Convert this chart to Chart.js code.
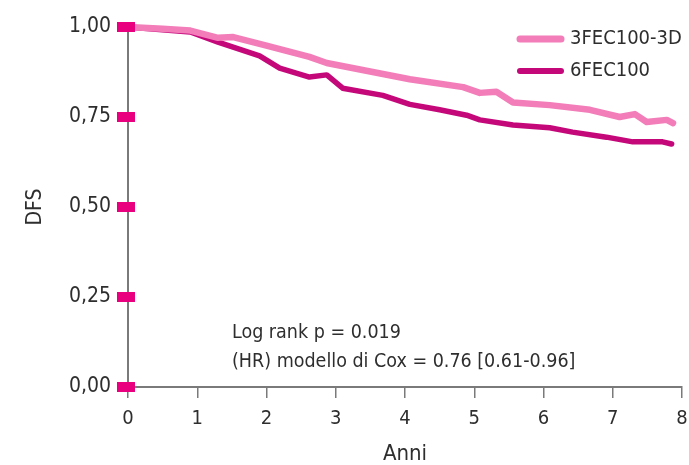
<!DOCTYPE html>
<html><head><meta charset="utf-8">
<script src="https://cdn.jsdelivr.net/npm/chart.js@4"></script>
<style>html,body{margin:0;padding:0;background:#fff}</style>
</head><body><canvas id="c" width="689" height="465"></canvas>
<script>
const seriesNames = ['3FEC100-3D', '6FEC100'];
const yearsA = [0, 0.5, 0.9, 1.3, 1.52, 2.0, 2.62, 2.87, 4.07, 4.84, 5.08, 5.32, 5.56, 6.09, 6.67, 7.1, 7.32, 7.49, 7.78, 7.87];
const dfsA   = [1.0, 0.995, 0.99, 0.97, 0.972, 0.948, 0.917, 0.90, 0.855, 0.833, 0.817, 0.82, 0.79, 0.783, 0.77, 0.75, 0.758, 0.736, 0.742, 0.733];
const yearsB = [0, 0.9, 1.3, 1.9, 2.19, 2.62, 2.87, 3.1, 3.68, 4.07, 4.5, 4.89, 5.08, 5.56, 6.09, 6.42, 6.91, 7.29, 7.72, 7.85];
const dfsB   = [1.0, 0.986, 0.958, 0.92, 0.886, 0.861, 0.867, 0.83, 0.81, 0.785, 0.77, 0.755, 0.742, 0.728, 0.72, 0.708, 0.694, 0.681, 0.681, 0.675];
const yTicks = [0, 0.25, 0.5, 0.75, 1];
const yTickLabels = ['0,00', '0,25', '0,50', '0,75', '1,00'];
const xTicks = [0, 1, 2, 3, 4, 5, 6, 7, 8];
const xTitle = 'Anni';
const yTitle = 'DFS';
const noteLines = ['Log rank p = 0.019', '(HR) modello di Cox = 0.76 [0.61-0.96]'];

const FONT = '"Liberation Sans Narrow", "DejaVu Sans Condensed", "Liberation Sans", sans-serif';
const colA = '#f27db8', colB = '#c4087a', tickPink = '#e8007f', axisGrey = '#7a7a7a', txt = '#2e2e2e';

const toXY = (xs, ys) => xs.map((x, i) => ({x, y: ys[i]}));

const decor = {
  id: 'decor',
  afterDatasetsDraw(chart) {
    const ctx = chart.ctx, y = chart.scales.y, x = chart.scales.x;
    ctx.save();
    ctx.fillStyle = tickPink;
    yTicks.forEach(v => {
      const py = y.getPixelForValue(v);
      ctx.fillRect(x.left - 11, py - 5, 18, 10);
    });
    ctx.restore();
  },
  afterDraw(chart) {
    const ctx = chart.ctx;
    ctx.save();
    const items = [[seriesNames[0], colA, 39, 7], [seriesNames[1], colB, 71, 6]];
    items.forEach(([name, c, yy, w]) => {
      ctx.strokeStyle = c; ctx.lineWidth = w; ctx.lineCap = 'round';
      ctx.beginPath(); ctx.moveTo(520, yy); ctx.lineTo(561, yy); ctx.stroke();
      ctx.fillStyle = txt; ctx.font = '20px ' + FONT; ctx.textBaseline = 'middle'; ctx.textAlign = 'left';
      ctx.fillText(name, 570, yy);
    });
    ctx.font = '19.5px ' + FONT;
    ctx.fillText(noteLines[0], 232, 333);
    ctx.fillText(noteLines[1], 232, 362);
    ctx.restore();
  }
};

new Chart(document.getElementById('c'), {
  type: 'scatter',
  data: {
    datasets: [
      {label: seriesNames[0], data: toXY(yearsA, dfsA), showLine: true, borderColor: colA, backgroundColor: colA, borderWidth: 6.5, pointRadius: 0, borderJoinStyle: 'round', borderCapStyle: 'round', clip: false},
      {label: seriesNames[1], data: toXY(yearsB, dfsB), showLine: true, borderColor: colB, backgroundColor: colB, borderWidth: 5.5, pointRadius: 0, borderJoinStyle: 'round', borderCapStyle: 'round', clip: false}
    ]
  },
  options: {
    responsive: false, animation: false, devicePixelRatio: 1,
    layout: {padding: {top: 27, right: 7, left: 0, bottom: 0}},
    plugins: {legend: {display: false}, tooltip: {enabled: false}},
    scales: {
      x: {
        type: 'linear', min: 0, max: 8,
        afterBuildTicks: s => { s.ticks = xTicks.map(v => ({value: v})); },
        afterFit: s => { s.height = 78; s.paddingLeft = 0; s.paddingRight = 0; },
        grid: {display: true, drawOnChartArea: false, drawTicks: true, tickLength: 11, color: axisGrey, lineWidth: 1.5},
        border: {display: true, color: axisGrey, width: 2},
        ticks: {color: txt, font: {family: FONT, size: 20}, padding: 9, maxRotation: 0},
        title: {display: true, text: xTitle, color: txt, font: {family: FONT, size: 22, lineHeight: 1}, padding: {top: 0, bottom: 0}}
      },
      y: {
        type: 'linear', min: 0, max: 1,
        afterBuildTicks: s => { s.ticks = yTicks.map(v => ({value: v})); },
        afterFit: s => { s.width = 128; s.paddingTop = 0; s.paddingBottom = 0; },
        grid: {display: false, drawTicks: false},
        border: {display: true, color: axisGrey, width: 2},
        ticks: {color: txt, font: {family: FONT, size: 21}, padding: 17, callback: (v) => yTickLabels[yTicks.indexOf(v)]},
        title: {display: true, text: yTitle, color: txt, font: {family: FONT, size: 21}, padding: {top: 23}}
      }
    }
  },
  plugins: [decor]
});
</script>
</body></html>
